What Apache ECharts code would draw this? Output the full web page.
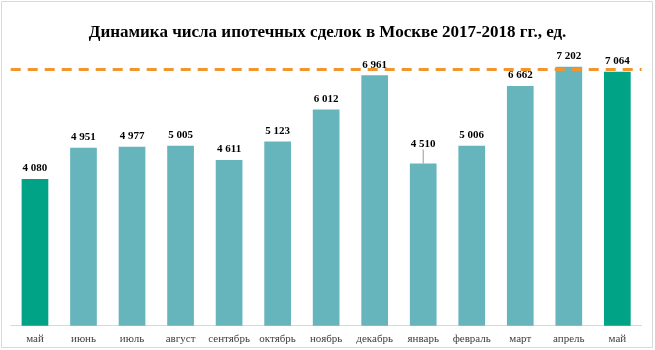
<!DOCTYPE html>
<html><head><meta charset="utf-8">
<script src="https://cdn.jsdelivr.net/npm/echarts@6/dist/echarts.min.js"></script>
<style>html,body{margin:0;padding:0;background:#fff}#c{width:655px;height:350px}</style>
</head><body><div id="c"></div>
<script>
var titleText = 'Динамика числа ипотечных сделок в Москве 2017-2018 гг., ед.';
var categories = ['май','июнь','июль','август','сентябрь','октябрь','ноябрь','декабрь','январь','февраль','март','апрель','май'];
var values = [4080,4951,4977,5005,4611,5123,6012,6961,4510,5006,6662,7202,7064];
var highlighted = [0,12];
var referenceLevel = 7130;

var teal = '#66B4BC', green = '#00A385';
var data = values.map(function(v,i){
  var d = {value:v, itemStyle:{color: highlighted.indexOf(i)>=0 ? green : teal}};
  if (i === 8) {
    d.labelLine = {show:true, lineStyle:{color:'#999', width:1}};
  }
  return d;
});
var chart = echarts.init(document.getElementById('c'));
chart.setOption({
  animation:false,
  title:{text:titleText,left:'center',top:19,textStyle:{fontFamily:'Liberation Serif',fontWeight:'bold',fontSize:17,color:'#000'}},
  graphic:[{type:'rect',shape:{x:1.5,y:1.5,width:651,height:346},style:{fill:null,stroke:'#d9d9d9',lineWidth:1},silent:true,z:-1}],
  grid:{left:10.7,right:13.4,top:38,bottom:24.3,containLabel:false},
  xAxis:{type:'category',data:categories,axisTick:{show:false},
    axisLine:{lineStyle:{color:'#d9d9d9',width:1}},
    axisLabel:{interval:0,fontFamily:'Liberation Serif',fontSize:11,color:'#404040',margin:8}},
  yAxis:{type:'value',min:0,max:8000,show:false,splitLine:{show:false}},
  series:[{type:'bar',data:data,barCategoryGap:'45%',
    label:{show:true,position:'top',distance:5,fontFamily:'Liberation Serif',fontWeight:'bold',fontSize:11,color:'#000',
      formatter:function(p){return p.value.toString().replace(/\B(?=(\d{3})+(?!\d))/g,' ');}},
    labelLayout:function(p){return p.dataIndex===8?{dy:-9}:{};},
    markLine:{silent:true,symbol:'none',label:{show:false},
      lineStyle:{color:'#F0962D',width:3,type:[10,7]},
      data:[{yAxis:referenceLevel}]},
    z:2
  }]
});
</script></body></html>
